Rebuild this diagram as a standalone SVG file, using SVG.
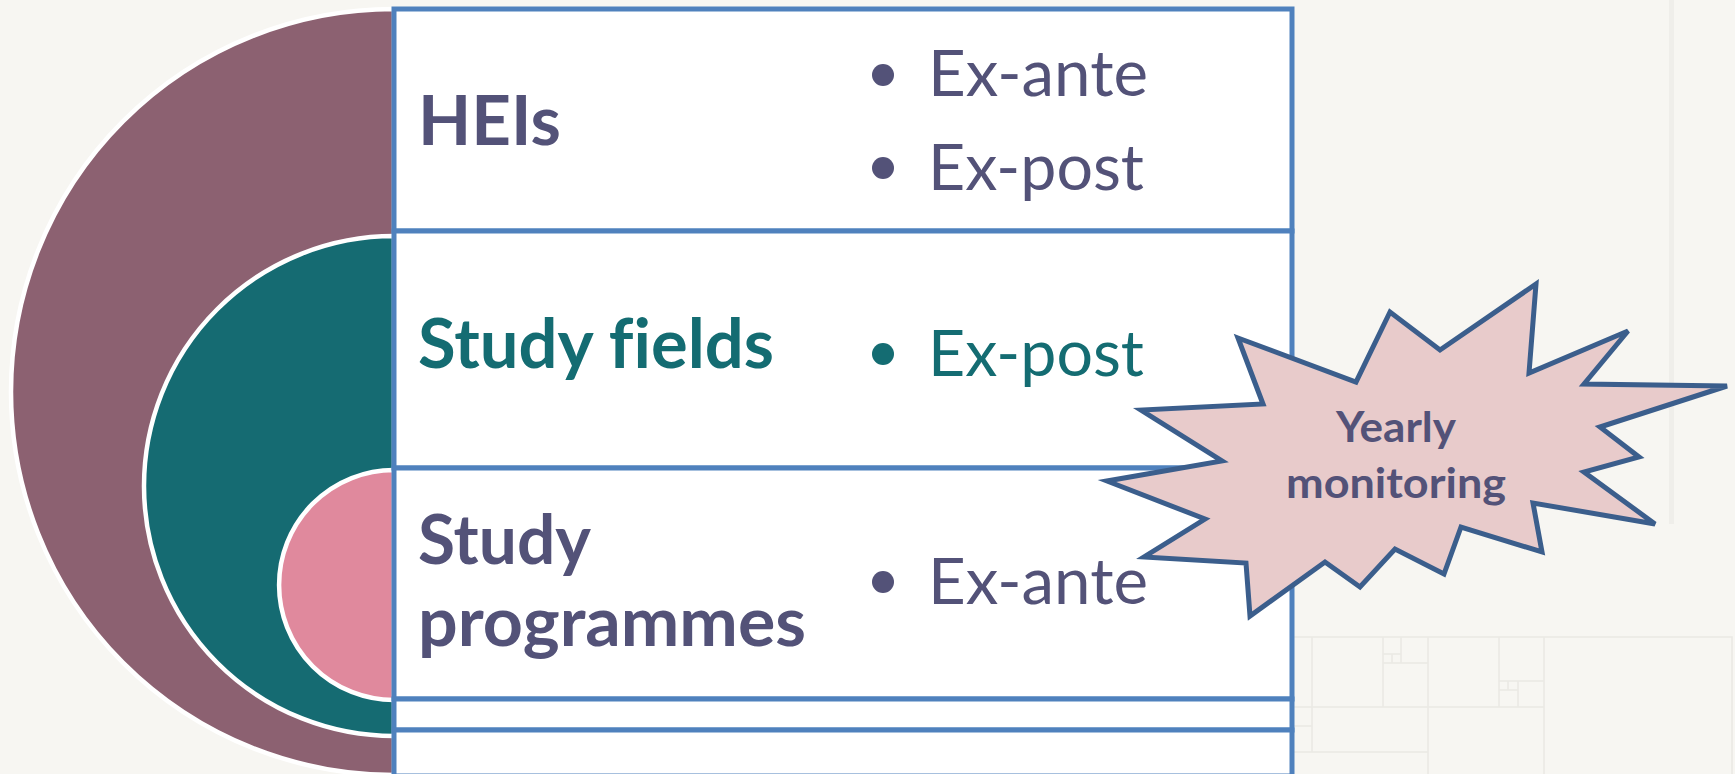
<svg xmlns="http://www.w3.org/2000/svg" width="1735" height="774" viewBox="0 0 1735 774">
<style>
.bg-line{fill:none;stroke:#EAE9E4;stroke-width:1.6}
.half{stroke:#FFFFFF;stroke-width:4.5}
.row{fill:#FFFFFF;stroke:#4F81BD;stroke-width:5}
text{font-variant-ligatures:none}
.lbl{font-family:Lato,"Open Sans","Liberation Sans",sans-serif;font-weight:700;font-size:69px}
.item{font-family:Lato,"Open Sans","Liberation Sans",sans-serif;font-weight:400;font-size:63px}
.slate{fill:#535278}
.teal{fill:#146C72}
.burst{fill:#E8CBCB;stroke:#3B5E8C;stroke-width:5;stroke-linejoin:miter}
.burst-text{font-family:Lato,"Open Sans","Liberation Sans",sans-serif;font-weight:700;font-size:42px;fill:#535278;text-anchor:middle}
</style>
<rect x="0" y="0" width="1735" height="774" fill="#F7F6F2"/>
<g id="background-texture">
<rect x="1669" y="0" width="5" height="524" fill="#EFEEEA"/>
<path class="bg-line" d="M1292,637 H1732 V774 M1312,637 V752 M1383,637 V707 M1428,637 V774 M1499,637 V707 M1544,637 V774 M1292,707 H1544 M1292,752 H1428 M1292,726 H1312 M1383,663 H1428 M1401,637 V663 M1383,654 H1401 M1392,654 V663 M1499,681 H1544 M1518,681 V707 M1499,690 H1518 M1508,681 V690"/>
</g>
<g id="circles">
<path class="half" fill="#8C6171" d="M394,9 A383,383 0 0 0 394,775 Z"/>
<path class="half" fill="#156B72" d="M394,236 A250,250 0 0 0 394,736 Z"/>
<path class="half" fill="#E0899D" d="M394,470 A115,115 0 0 0 394,700 Z"/>
</g>
<g id="row-heis">
<rect class="row" x="394" y="9" width="898" height="222"/>
<text class="lbl slate" x="418" y="145" textLength="143" lengthAdjust="spacingAndGlyphs">HEIs</text>
<circle class="slate" cx="883" cy="75" r="11"/>
<text class="item slate" x="928" y="96" textLength="220" lengthAdjust="spacingAndGlyphs">Ex-ante</text>
<circle class="slate" cx="883" cy="168" r="11"/>
<text class="item slate" x="928" y="190" textLength="216" lengthAdjust="spacingAndGlyphs">Ex-post</text>
</g>
<g id="row-fields">
<rect class="row" x="394" y="231" width="898" height="237"/>
<text class="lbl teal" x="418" y="368" textLength="356" lengthAdjust="spacingAndGlyphs">Study fields</text>
<circle class="teal" cx="883" cy="354" r="11"/>
<text class="item teal" x="928" y="376" textLength="216" lengthAdjust="spacingAndGlyphs">Ex-post</text>
</g>
<g id="row-programmes">
<rect class="row" x="394" y="468" width="898" height="231"/>
<text class="lbl slate" x="418" y="564" textLength="173" lengthAdjust="spacingAndGlyphs">Study</text>
<text class="lbl slate" x="418" y="646" textLength="388" lengthAdjust="spacingAndGlyphs">programmes</text>
<circle class="slate" cx="883" cy="582" r="11"/>
<text class="item slate" x="928" y="604" textLength="220" lengthAdjust="spacingAndGlyphs">Ex-ante</text>
</g>
<g id="row-4">
<rect class="row" x="394" y="699" width="898" height="31"/>
</g>
<g id="row-5">
<rect class="row" x="394" y="730" width="898" height="46"/>
</g>
<g id="yearly-monitoring">
<polygon class="burst" points="1238,338 1356,382 1390,312 1440,350 1536,284 1529,373 1628,331 1584,384 1727,386 1600,427 1639,457 1584,472 1655,524 1533,503 1542,552 1461,527 1444,574 1395,549 1360,587 1325,562 1250,616 1246,563 1144,557 1205,519 1107,481 1222,461 1141,410 1263,404"/>
<text class="burst-text" x="1396" y="442" textLength="120" lengthAdjust="spacingAndGlyphs">Yearly</text>
<text class="burst-text" x="1396" y="498" textLength="220" lengthAdjust="spacingAndGlyphs">monitoring</text>
</g>
<g id="connectors"/>
</svg>
